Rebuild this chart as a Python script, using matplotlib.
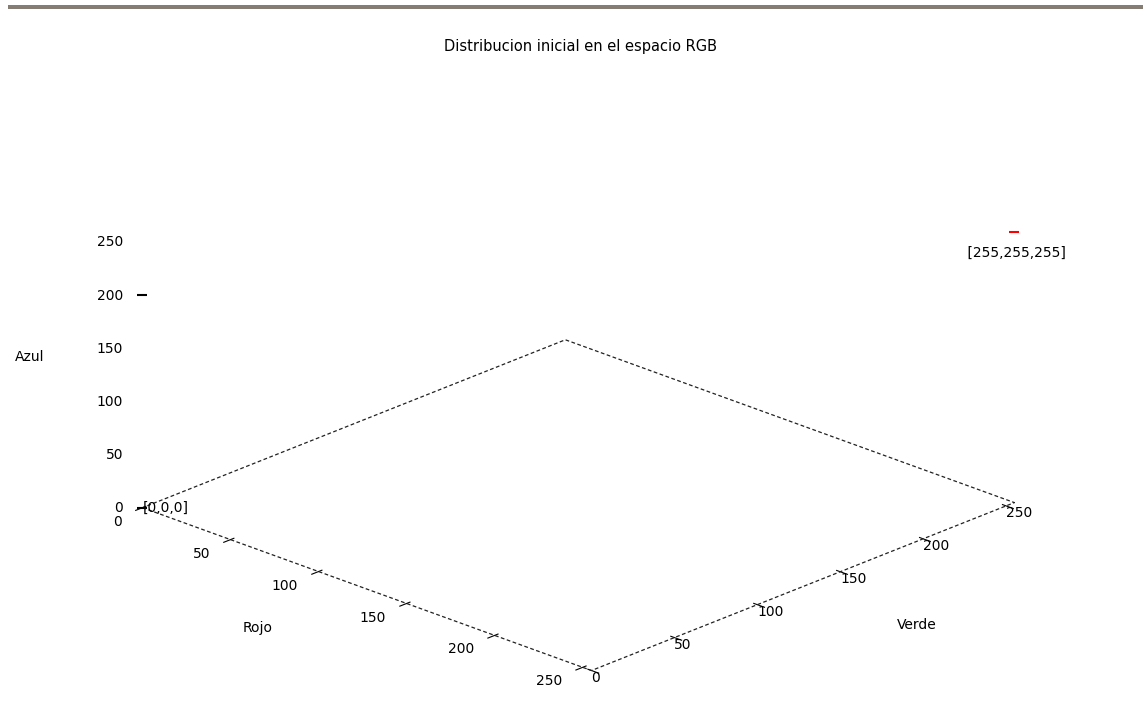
import matplotlib
matplotlib.use('Agg')
import matplotlib.pyplot as plt
from matplotlib.patches import Rectangle

# Ejes RGB y marcas
rojo_ticks = [0, 50, 100, 150, 200, 250]
verde_ticks = [0, 50, 100, 150, 200, 250]
azul_ticks = [0, 50, 100, 150, 200, 250]
rango = [0, 255]

# Puntos de la distribucion inicial
puntos_r = [0, 0, 255]
puntos_g = [0, 0, 255]
puntos_b = [0, 200, 255]
puntos_color = ['black', 'black', 'red']

fs = 10

fig = plt.figure(figsize=(11.43, 7.23), dpi=100)
ax = fig.add_axes([-0.0025, -0.025, 1, 1], projection='3d', proj_type='ortho')
ax.view_init(elev=22.3, azim=-46.3)
ax.set_box_aspect((622, 613, 293), zoom=1.235)
ax.set_xlim(*rango)
ax.set_ylim(*rango)
ax.set_zlim(*rango)

# sin paneles ni rejilla
ax.grid(False)
for eje in (ax.xaxis, ax.yaxis, ax.zaxis):
    eje.set_pane_color((1, 1, 1, 0))
    eje.pane.set_edgecolor('none')
    eje.line.set_linewidth(0)

ax.set_xticks(rojo_ticks)
ax.set_yticks(verde_ticks)
ax.set_zticks(azul_ticks)
ax.zaxis.set_ticks_position('lower')
ax.tick_params(labelsize=fs)
ax.tick_params(axis='x', pad=5)
ax.tick_params(axis='y', pad=-8)
ax.tick_params(axis='z', pad=-2)
for t in ax.get_xticklabels():
    t.set_ha('right')
    t.set_va('bottom')
for t in ax.get_yticklabels():
    t.set_ha('left')
for t in ax.get_zticklabels():
    t.set_ha('right')
    t.set_va('center')
ax.zaxis._axinfo['tick']['inward_factor'] = 0
ax.zaxis._axinfo['tick']['outward_factor'] = 0

# contorno de la base (z = 0) con trazo discontinuo
borde_r = [rango[0], rango[1], rango[1], rango[0], rango[0]]
borde_g = [rango[0], rango[0], rango[1], rango[1], rango[0]]
borde_b = [0, 0, 0, 0, 0]
ax.plot(borde_r, borde_g, borde_b, color='#222222', lw=0.9, ls=(0, (3, 2)),
        clip_on=False)

for r, g, b, c in zip(puntos_r, puntos_g, puntos_b, puntos_color):
    ax.plot([r], [g], [b], marker='_', color=c, ms=7, mew=1.5, ls='none',
            clip_on=False)

ax.text(puntos_r[0], puntos_g[0], puntos_b[0], '[0,0,0]', fontsize=fs,
        ha='left', va='center')
ax.text(puntos_r[2], puntos_g[2], puntos_b[2], '\n [255,255,255]', fontsize=fs,
        ha='center', va='top', linespacing=0.95)

fig.text(0.508, 0.935, 'Distribucion inicial en el espacio RGB', fontsize=10.5,
         ha='center', va='center')
fig.text(0.225, 0.131, 'Rojo', fontsize=fs, ha='center', va='center')
fig.text(0.802, 0.135, 'Verde', fontsize=fs, ha='center', va='center')
fig.text(0.026, 0.506, 'Azul', fontsize=fs, ha='center', va='center')

# borde gris superior
fig.add_artist(Rectangle((0.007, 0.9876), 0.993, 0.0055, transform=fig.transFigure,
                         facecolor='#857d73', edgecolor='none'))

fig.savefig('out.png', dpi=100)
